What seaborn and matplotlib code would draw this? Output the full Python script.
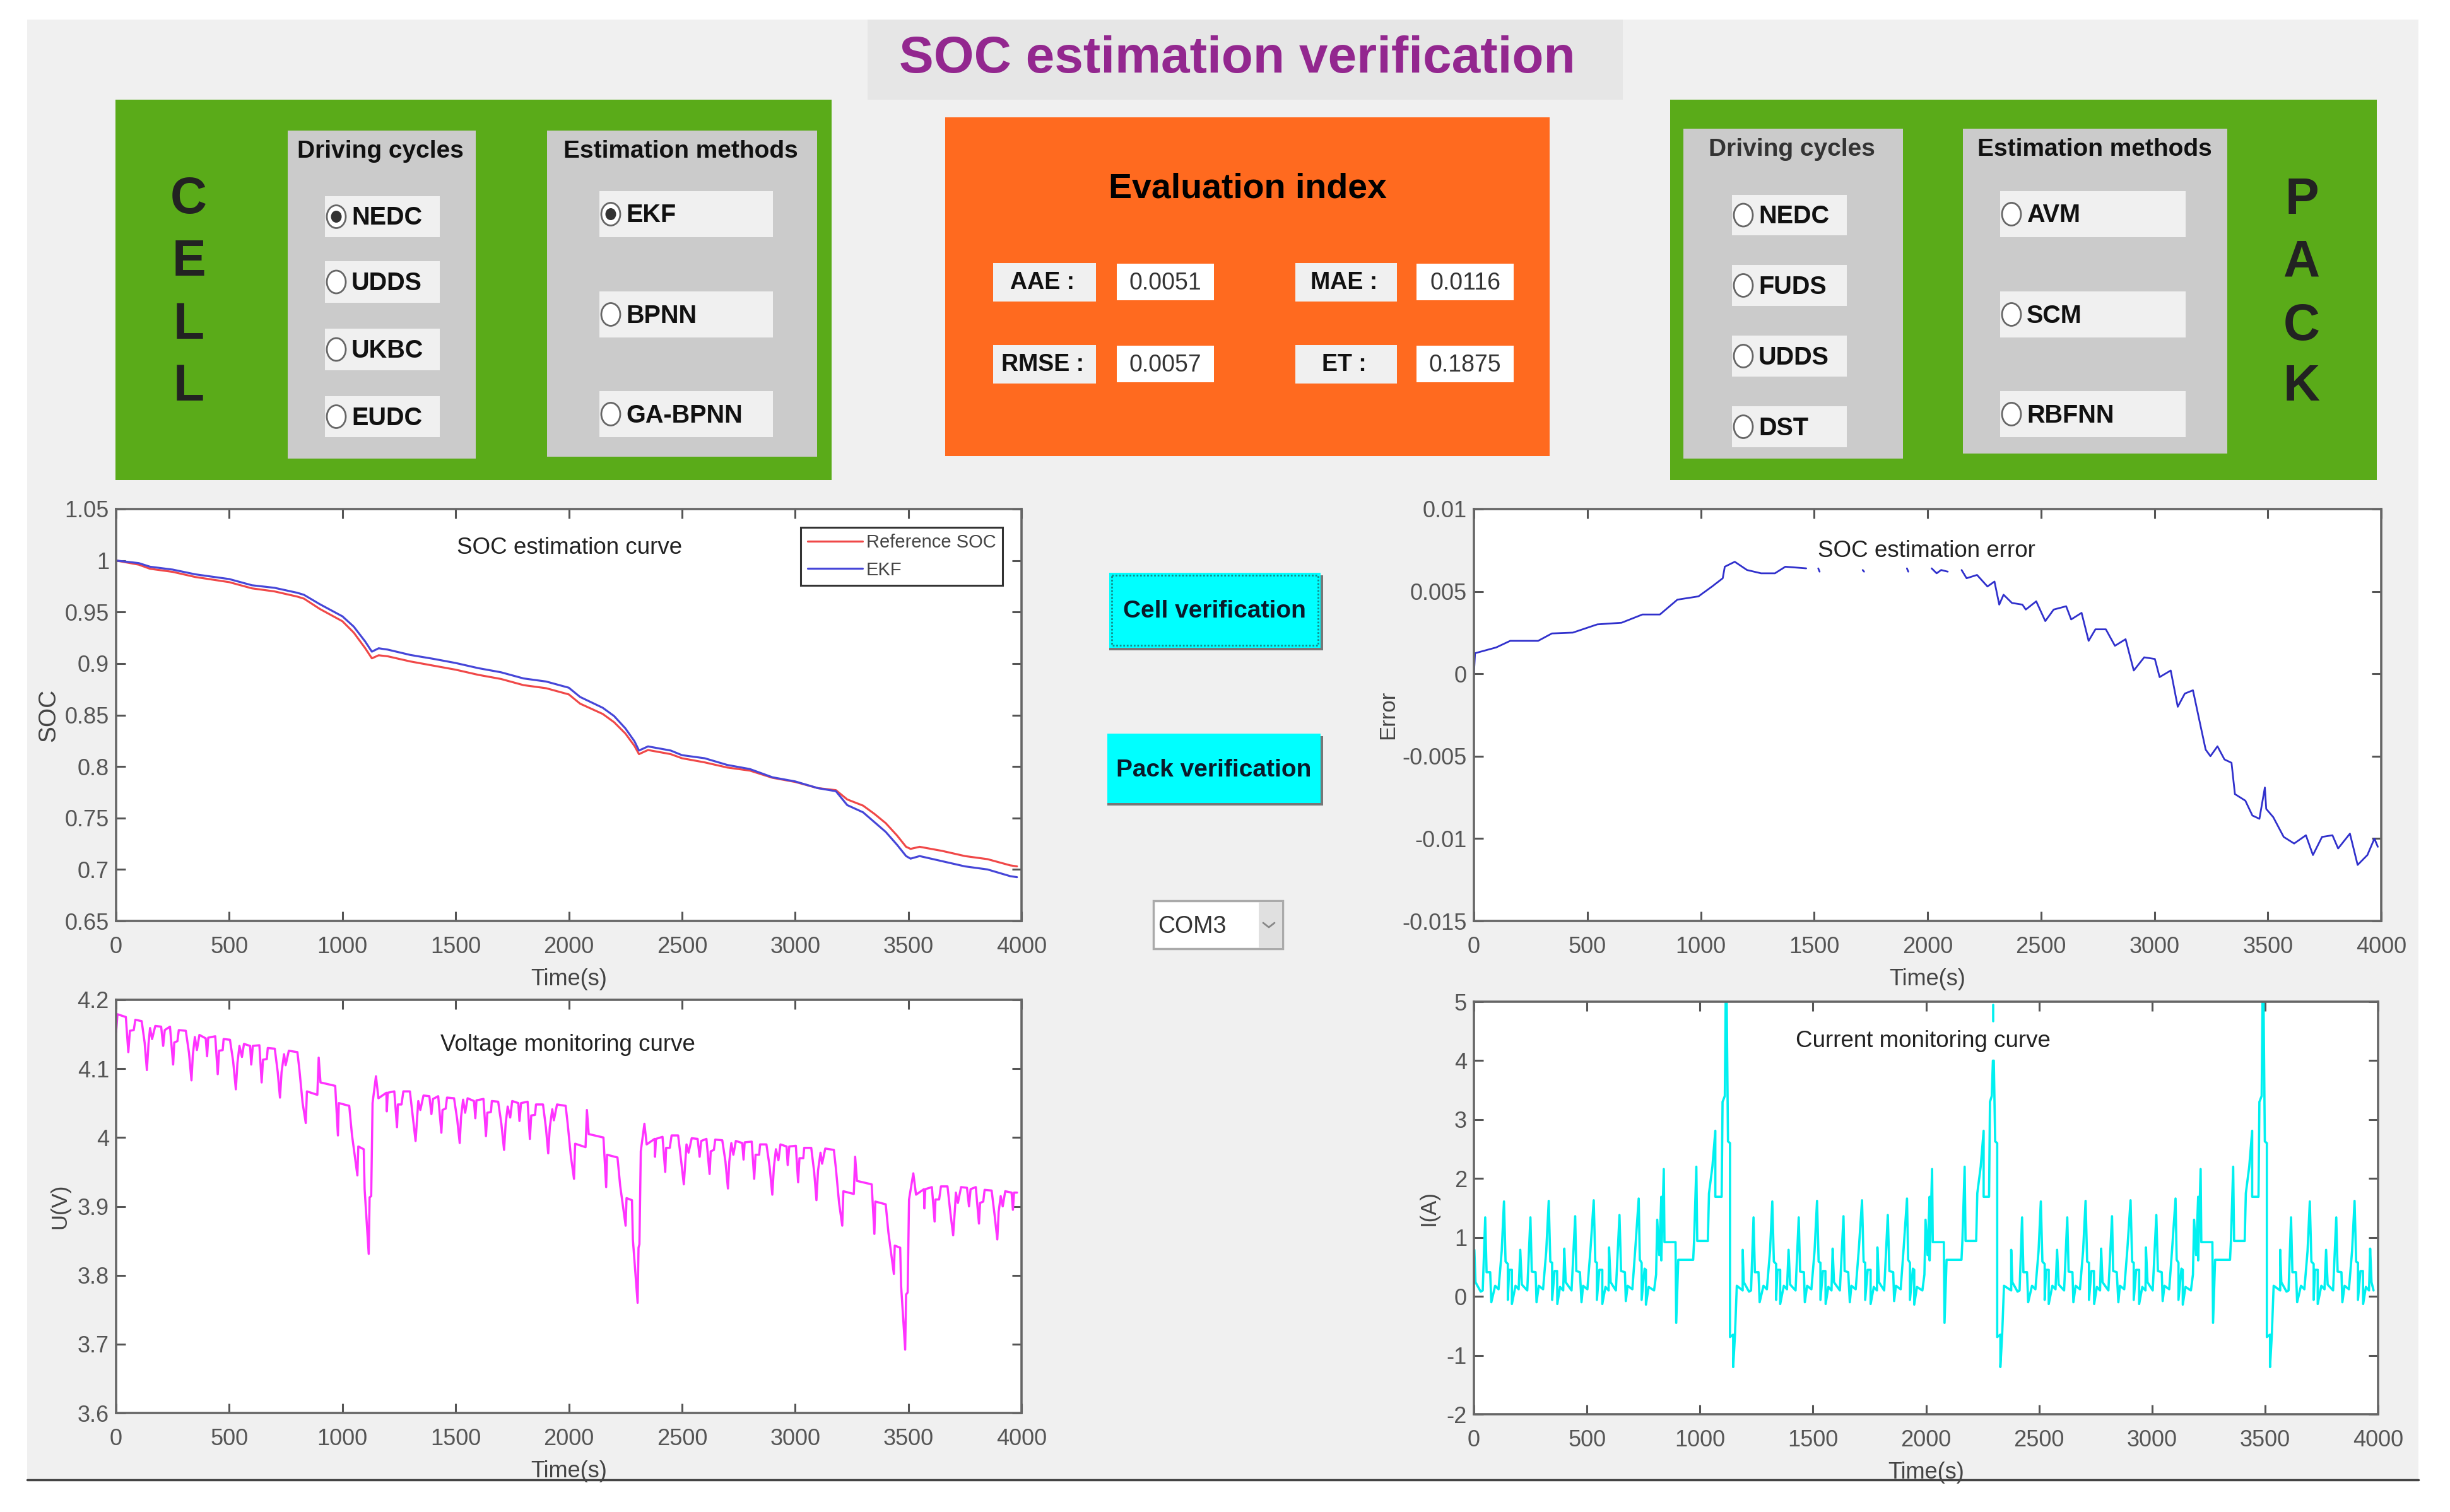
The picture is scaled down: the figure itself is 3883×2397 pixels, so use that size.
import matplotlib
matplotlib.use("Agg")
import matplotlib.pyplot as plt
from matplotlib.patches import Rectangle, Ellipse
import seaborn as sns

W, H = 3883, 2397

# SOC curves
soc_t = [0, 100, 150, 250, 350, 500, 600, 700, 800, 830,
         900, 1000, 1050, 1100, 1130, 1160, 1200, 1300, 1400, 1500,
         1600, 1700, 1800, 1900, 2000, 2050, 2150, 2200, 2250, 2290,
         2310, 2350, 2450, 2500, 2600, 2700, 2800, 2900, 3000, 3100,
         3180, 3230, 3300, 3350, 3400, 3450, 3490, 3510, 3550, 3650,
         3750, 3850, 3950, 3980]
soc_ref = [1.0, .996, .992, .989, .984, .979, .973, .970, .965, .963,
           .953, .941, .93, .915, .905, .908, .907, .902, .898, .894,
           .889, .885, .879, .876, .870, .861, .851, .843, .832, .82,
           .812, .816, .812, .808, .804, .799, .796, .789, .785, .779,
           .777, .768, .762, .754, .745, .733, .722, .72, .722, .718,
           .713, .710, .704, .703]
soc_ekf = [1.0, .9975, .994, .9912, .9866, .982, .976, .9735, .9687, .9667,
           .9576, .9458, .9358, .9215, .9115, .9148, .9135, .9083, .9046, .9005,
           .8955, .8915, .8855, .8825, .8765, .8675, .857, .849, .837, .8245,
           .8155, .8195, .8155, .811, .808, .8015, .7975, .7895, .7855, .779,
           .776, .7625, .7555, .746, .7365, .724, .713, .7105, .713, .708,
           .703, .70, .6935, .6925]

# SOC error, the curve is broken behind the title smudge
err_t_a = [0, 5, 98, 160, 283, 344, 436, 544, 651, 743, 820, 897, 990, 1050, 1097,
           1106, 1150, 1204, 1266, 1327, 1373, 1465]
err_a = [0, .00125, .0016, .002, .002, .00245, .0025, .003, .0031, .0036, .0036, .0045, .0047, .0053, .0058,
         .0065, .0068, .0063, .0061, .0061, .0065, .0064]
err_dots_t = [[1518, 1524], [1714, 1720], [1909, 1915], [2018, 2040, 2060, 2089]]
err_dots = [[.0064, .0062], [.0063, .0062], [.0064, .0062], [.0064, .0061, .0063, .0062]]
err_t_b = [2150, 2172, 2218, 2264, 2295, 2316, 2335, 2372, 2418, 2433,
           2479, 2519, 2556, 2611, 2633, 2679, 2710, 2740, 2786, 2826,
           2873, 2909, 2955, 3002, 3023, 3072, 3103, 3134, 3170, 3201,
           3226, 3247, 3278, 3309, 3340, 3355, 3401, 3432, 3463, 3487,
           3493, 3524, 3570, 3616, 3668, 3699, 3739, 3785, 3810, 3862,
           3896, 3939, 3970, 3985]
err_b = [.0063, .0058, .006, .0053, .0056, .0042, .0048, .0043, .0042, .0039,
         .0044, .0032, .0039, .0041, .0033, .0037, .002, .0027, .0027, .0017,
         .0021, .0002, .001, .0009, -.0002, .0002, -.002, -.0012, -.001, -.003,
         -.0046, -.005, -.0044, -.0052, -.0054, -.0073, -.0077, -.0086, -.0088, -.0069,
         -.0082, -.0087, -.0099, -.0103, -.0098, -.011, -.0099, -.0098, -.0106, -.0097,
         -.0116, -.011, -.01, -.0105]

# voltage, one list per drive cycle
volt_t_1 = [0, 6, 43, 54, 61, 78, 85, 113, 126, 136,
            143, 150, 159, 173, 199, 208, 215, 238, 252, 257,
            271, 277, 308, 322, 333, 339, 348, 357, 368, 396,
            402, 407, 438, 449, 455, 471, 475, 503, 517, 529,
            536, 545, 556, 565, 592, 597, 604, 633, 643, 649,
            666, 670, 701, 714, 724, 731, 742, 749, 763, 801,
            810, 824, 838, 843, 889, 895, 903, 968, 980, 984,
            1030, 1042, 1066, 1070, 1094, 1098, 1116, 1120, 1127, 1133,
            1148]
volt_u_1 = [4.153, 4.179, 4.175, 4.124, 4.155, 4.156, 4.171, 4.169, 4.138, 4.098,
            4.135, 4.159, 4.143, 4.162, 4.161, 4.133, 4.156, 4.161, 4.106, 4.138,
            4.14, 4.156, 4.155, 4.123, 4.083, 4.12, 4.146, 4.127, 4.149, 4.144,
            4.118, 4.145, 4.147, 4.092, 4.126, 4.127, 4.143, 4.142, 4.111, 4.07,
            4.108, 4.133, 4.117, 4.136, 4.133, 4.106, 4.133, 4.134, 4.08, 4.113,
            4.114, 4.13, 4.129, 4.095, 4.058, 4.095, 4.121, 4.105, 4.126, 4.124,
            4.098, 4.05, 4.021, 4.067, 4.062, 4.116, 4.08, 4.075, 4.003, 4.05,
            4.046, 4.004, 3.945, 3.987, 3.983, 3.925, 3.831, 3.913, 3.915, 4.05,
            4.089]
volt_t_2 = [1159, 1194, 1196, 1200, 1229, 1241, 1245, 1261, 1269, 1298,
            1311, 1323, 1331, 1335, 1344, 1358, 1384, 1393, 1400, 1423,
            1437, 1442, 1456, 1462, 1493, 1507, 1518, 1524, 1533, 1542,
            1553, 1581, 1587, 1592, 1623, 1634, 1640, 1656, 1660, 1688,
            1702, 1714, 1721, 1730, 1741, 1750, 1777, 1782, 1789, 1818,
            1828, 1834, 1851, 1855, 1886, 1899, 1909, 1916, 1927, 1934,
            1948, 1986, 1995, 2009, 2023, 2028, 2074, 2080, 2088, 2153,
            2165, 2169, 2215, 2227, 2251, 2255, 2279, 2283, 2304, 2308,
            2312, 2318, 2334]
volt_u_2 = [4.057, 4.065, 4.038, 4.065, 4.067, 4.015, 4.048, 4.048, 4.067, 4.067,
            4.03, 3.995, 4.033, 4.053, 4.04, 4.061, 4.06, 4.034, 4.056, 4.06,
            4.007, 4.04, 4.042, 4.058, 4.057, 4.026, 3.992, 4.03, 4.055, 4.036,
            4.057, 4.053, 4.028, 4.054, 4.056, 4.002, 4.036, 4.037, 4.053, 4.052,
            4.02, 3.982, 4.02, 4.045, 4.029, 4.053, 4.05, 4.024, 4.05, 4.052,
            3.998, 4.032, 4.033, 4.048, 4.048, 4.014, 3.977, 4.015, 4.041, 4.025,
            4.048, 4.046, 4.02, 3.973, 3.94, 3.991, 3.986, 4.04, 4.005, 4.0,
            3.928, 3.975, 3.971, 3.93, 3.872, 3.912, 3.909, 3.852, 3.76, 3.84,
            3.845, 3.98, 4.02]
volt_t_3 = [2344, 2379, 2381, 2385, 2414, 2426, 2430, 2446, 2454, 2483,
            2496, 2508, 2516, 2520, 2529, 2543, 2569, 2578, 2585, 2608,
            2622, 2627, 2641, 2647, 2678, 2692, 2703, 2709, 2718, 2727,
            2738, 2766, 2772, 2777, 2808, 2819, 2825, 2841, 2845, 2873,
            2887, 2899, 2906, 2915, 2926, 2935, 2962, 2967, 2974, 3003,
            3013, 3019, 3036, 3040, 3071, 3084, 3094, 3101, 3112, 3119,
            3133, 3171, 3180, 3194, 3208, 3213, 3259, 3265, 3273, 3338,
            3350, 3354, 3400, 3412, 3436, 3440, 3464, 3468, 3486, 3490,
            3497, 3503, 3522]
volt_u_3 = [3.99, 3.998, 3.972, 3.998, 4.001, 3.95, 3.985, 3.985, 4.003, 4.003,
            3.967, 3.932, 3.97, 3.99, 3.978, 3.999, 3.998, 3.972, 3.995, 3.998,
            3.947, 3.98, 3.982, 3.997, 3.996, 3.965, 3.926, 3.965, 3.992, 3.975,
            3.995, 3.992, 3.968, 3.993, 3.994, 3.94, 3.975, 3.975, 3.99, 3.99,
            3.958, 3.917, 3.957, 3.983, 3.967, 3.99, 3.987, 3.96, 3.987, 3.988,
            3.935, 3.97, 3.97, 3.985, 3.985, 3.95, 3.909, 3.952, 3.978, 3.962,
            3.984, 3.982, 3.955, 3.905, 3.872, 3.922, 3.918, 3.972, 3.937, 3.932,
            3.86, 3.907, 3.903, 3.862, 3.802, 3.843, 3.84, 3.785, 3.692, 3.772,
            3.775, 3.91, 3.948]
volt_t_4 = [3534, 3569, 3571, 3575, 3604, 3616, 3620, 3636, 3644, 3673,
            3686, 3698, 3706, 3710, 3719, 3733, 3759, 3768, 3775, 3798,
            3812, 3817, 3831, 3837, 3868, 3882, 3893, 3899, 3908, 3917,
            3928, 3956, 3962, 3967, 3980]
volt_u_4 = [3.917, 3.925, 3.897, 3.925, 3.928, 3.878, 3.91, 3.91, 3.929, 3.929,
            3.89, 3.858, 3.897, 3.92, 3.905, 3.928, 3.927, 3.9, 3.925, 3.928,
            3.875, 3.905, 3.907, 3.924, 3.923, 3.885, 3.852, 3.892, 3.915, 3.9,
            3.922, 3.92, 3.895, 3.92, 3.92]

# current, same split
curr_t_1 = [2, 7, 30, 39, 50, 56, 72, 77, 94, 109,
            123, 133, 140, 150, 150, 156, 168, 168, 184, 198,
            205, 212, 236, 250, 256, 273, 277, 287, 306, 320,
            331, 338, 346, 346, 357, 368, 369, 381, 395, 400,
            406, 432, 448, 453, 469, 476, 483, 502, 516, 530,
            537, 544, 544, 555, 568, 568, 582, 596, 598, 605,
            628, 644, 651, 668, 672, 680, 701, 714, 729, 734,
            742, 742, 755, 761, 761, 773, 797, 806, 811, 820,
            829, 829, 840, 843, 892, 895, 904, 970, 974, 984,
            988, 1035, 1040, 1055, 1068, 1068, 1096, 1100, 1110, 1116,
            1124, 1133, 1133, 1147, 1147, 1155, 1163, 1189]
curr_i_1 = [.79, .24, .08, .1, 1.34, .41, .41, -.1, .18, .12,
            .77, 1.61, .59, .55, -.06, .45, .45, -.13, .18, .12,
            .79, .2, .1, 1.34, .42, .41, -.1, .18, .12, .77,
            1.62, .59, .57, -.06, .43, .43, -.13, .16, .1, .81,
            .24, .1, 1.36, .43, .41, -.1, .18, .12, .81, 1.63,
            .59, .57, -.06, .45, .45, -.13, .16, .1, .83, .24,
            .1, 1.38, .43, .41, -.08, .18, .12, .81, 1.66, .62,
            .57, -.06, .47, .45, -.14, .16, .1, .37, 1.3, .7,
            1.69, .61, 2.16, .92, .92, -.45, .62, .62, .94, 2.2,
            .94, .94, 1.75, 2.2, 2.81, 1.69, 1.69, 3.3, 3.4, 6.0,
            2.63, 2.6, -.69, -.65, -1.2, -.65, .18, .1]
curr_t_2a = [1189, 1194, 1217, 1226, 1237, 1243, 1259, 1264, 1281, 1296,
             1310, 1320, 1327, 1337, 1337, 1343, 1355, 1355, 1371, 1385,
             1392, 1399, 1423, 1437, 1443, 1460, 1464, 1474, 1493, 1507,
             1518, 1525, 1533, 1533, 1544, 1555, 1556, 1568, 1582, 1587,
             1593, 1619, 1635, 1640, 1656, 1663, 1670, 1689, 1703, 1717,
             1724, 1731, 1731, 1742, 1755, 1755, 1769, 1783, 1785, 1792,
             1815, 1831, 1838, 1855, 1859, 1867, 1888, 1901, 1916, 1921,
             1929, 1929, 1942, 1948, 1948, 1960, 1984, 1993, 1998, 2007,
             2016, 2016, 2027, 2030, 2079, 2082, 2091, 2157, 2161, 2171,
             2175, 2222, 2227, 2242, 2255, 2255, 2279, 2283, 2291, 2296]
curr_i_2a = [.79, .24, .08, .1, 1.34, .41, .41, -.1, .18, .12,
             .77, 1.61, .59, .55, -.06, .45, .45, -.13, .18, .12,
             .79, .2, .1, 1.34, .42, .41, -.1, .18, .12, .77,
             1.62, .59, .57, -.06, .43, .43, -.13, .16, .1, .81,
             .24, .1, 1.36, .43, .41, -.1, .18, .12, .81, 1.63,
             .59, .57, -.06, .45, .45, -.13, .16, .1, .83, .24,
             .1, 1.38, .43, .41, -.08, .18, .12, .81, 1.66, .62,
             .57, -.06, .47, .45, -.14, .16, .1, .37, 1.3, .7,
             1.69, .61, 2.16, .92, .92, -.45, .62, .62, .94, 2.2,
             .94, .94, 1.75, 2.2, 2.81, 1.69, 1.69, 3.3, 3.4, 4.0]
curr_t_2dash = [2298, 2298]
curr_i_2dash = [4.95, 4.67]
curr_t_2b = [2300, 2306, 2315, 2315, 2329, 2329, 2337, 2345, 2377]
curr_i_2b = [4.0, 2.63, 2.6, -.69, -.65, -1.2, -.65, .18, .1]
curr_t_3 = [2377, 2382, 2405, 2414, 2425, 2431, 2447, 2452, 2469, 2484,
            2498, 2508, 2515, 2525, 2525, 2531, 2543, 2543, 2559, 2573,
            2580, 2587, 2611, 2625, 2631, 2648, 2652, 2662, 2681, 2695,
            2706, 2713, 2721, 2721, 2732, 2743, 2744, 2756, 2770, 2775,
            2781, 2807, 2823, 2828, 2844, 2851, 2858, 2877, 2891, 2905,
            2912, 2919, 2919, 2930, 2943, 2943, 2957, 2971, 2973, 2980,
            3003, 3019, 3026, 3043, 3047, 3055, 3076, 3089, 3104, 3109,
            3117, 3117, 3130, 3136, 3136, 3148, 3172, 3181, 3186, 3195,
            3204, 3204, 3215, 3218, 3267, 3270, 3279, 3345, 3349, 3359,
            3363, 3410, 3415, 3430, 3443, 3443, 3471, 3475, 3485, 3491,
            3499, 3508, 3508, 3522, 3522, 3530, 3538, 3567]
curr_i_3 = [.79, .24, .08, .1, 1.34, .41, .41, -.1, .18, .12,
            .77, 1.61, .59, .55, -.06, .45, .45, -.13, .18, .12,
            .79, .2, .1, 1.34, .42, .41, -.1, .18, .12, .77,
            1.62, .59, .57, -.06, .43, .43, -.13, .16, .1, .81,
            .24, .1, 1.36, .43, .41, -.1, .18, .12, .81, 1.63,
            .59, .57, -.06, .45, .45, -.13, .16, .1, .83, .24,
            .1, 1.38, .43, .41, -.08, .18, .12, .81, 1.66, .62,
            .57, -.06, .47, .45, -.14, .16, .1, .37, 1.3, .7,
            1.69, .61, 2.16, .92, .92, -.45, .62, .62, .94, 2.2,
            .94, .94, 1.75, 2.2, 2.81, 1.69, 1.69, 3.3, 3.4, 6.0,
            2.63, 2.6, -.69, -.65, -1.2, -.65, .18, .1]
curr_t_4 = [3567, 3572, 3595, 3604, 3615, 3621, 3637, 3642, 3659, 3674,
            3688, 3698, 3705, 3715, 3715, 3721, 3733, 3733, 3749, 3763,
            3770, 3777, 3801, 3815, 3821, 3838, 3842, 3852, 3871, 3885,
            3896, 3903, 3911, 3911, 3922, 3933, 3934, 3946, 3960, 3965,
            3971, 3980]
curr_i_4 = [.79, .24, .08, .1, 1.34, .41, .41, -.1, .18, .12,
            .77, 1.61, .59, .55, -.06, .45, .45, -.13, .18, .12,
            .79, .2, .1, 1.34, .42, .41, -.1, .18, .12, .77,
            1.62, .59, .57, -.06, .43, .43, -.13, .16, .1, .81,
            .24, .1]

# tick labels
time_ticks = [0, 500, 1000, 1500, 2000, 2500, 3000, 3500, 4000]
soc_ticks = [.65, .7, .75, .8, .85, .9, .95, 1, 1.05]
soc_labels = ["0.65", "0.7", "0.75", "0.8", "0.85", "0.9", "0.95", "1", "1.05"]
err_ticks = [-.015, -.01, -.005, 0, .005, .01]
err_labels = ["-0.015", "-0.01", "-0.005", "0", "0.005", "0.01"]
volt_ticks = [3.6, 3.7, 3.8, 3.9, 4, 4.1, 4.2]
volt_labels = ["3.6", "3.7", "3.8", "3.9", "4", "4.1", "4.2"]
curr_ticks = [-2, -1, 0, 1, 2, 3, 4, 5]

# GUI labels
cell_cycles = ["NEDC", "UDDS", "UKBC", "EUDC"]
cell_methods = ["EKF", "BPNN", "GA-BPNN"]
pack_cycles = ["NEDC", "FUDS", "UDDS", "DST"]
pack_methods = ["AVM", "SCM", "RBFNN"]
index_names = ["AAE :", "MAE :", "RMSE :", "ET :"]
index_values = ["0.0051", "0.0116", "0.0057", "0.1875"]

sns.set_style("ticks")
plt.rcParams["font.family"] = ["Liberation Sans"]
NARROW = ["Liberation Sans Narrow", "Liberation Sans"]

GREEN = "#5aab19"
PANEL = "#cbcbcb"
BOX = "#f0f0f0"
ORANGE = "#ff6a1f"

fig = plt.figure(figsize=(W / 100, H / 100), dpi=100, facecolor="white")

# whole figure axis in pixel coords for the GUI furniture
bg = fig.add_axes([0, 0, 1, 1])
bg.set_xlim(0, W)
bg.set_ylim(H, 0)
bg.axis("off")


def rect(x0, y0, x1, y1, color, **kw):
    bg.add_patch(Rectangle((x0, y0), x1 - x0, y1 - y0, facecolor=color, edgecolor="none", **kw))


def radio(x, y, on=False):
    bg.add_patch(Ellipse((x, y), 30, 36, facecolor="white", edgecolor="#666666", linewidth=2))
    if on:
        bg.add_patch(Ellipse((x, y), 17, 19, facecolor="#333333", edgecolor="none"))


def options(names, x0, x1, ys, rx, tx, selected=None):
    for i, (name, (y0, y1)) in enumerate(zip(names, ys)):
        rect(x0, y0, x1, y1, BOX)
        radio(rx, (y0 + y1) / 2, on=(i == selected))
        bg.text(tx - 2, (y0 + y1) / 2 + 2, name, fontsize=28.5, fontweight="bold", color="#111111", ha="left", va="center")


rect(43, 31, 3833, 2346, "#f0f0f0")
bg.plot([43, 3833], [2346, 2346], color="#444444", lw=2.5)

# title band
rect(1375, 31, 2572, 158, "#e6e6e6")
bg.text(1961, 94, "SOC estimation verification", fontsize=59, fontweight="bold", color="#93278f", ha="center", va="center")

# cell block
rect(183, 158, 1318, 761, GREEN)
rect(456, 207, 754, 727, PANEL)
rect(867, 207, 1295, 724, PANEL)
bg.text(603, 240, "Driving cycles", fontsize=28, fontweight="bold", color="#111111", ha="center", va="center")
bg.text(1079, 240, "Estimation methods", fontsize=28, fontweight="bold", color="#111111", ha="center", va="center")
options(cell_cycles, 515, 697, [(311, 376), (414, 480), (521, 587), (628, 693)], 533, 559, selected=0)
options(cell_methods, 950, 1225, [(303, 376), (462, 535), (620, 693)], 968, 994, selected=0)
for ch, y in zip("CELL", [317, 416, 516, 614]):
    bg.text(299, y, ch, fontsize=58, fontweight="bold", color="#222222", ha="center", va="center")

# pack block
rect(2647, 158, 3767, 761, GREEN)
rect(2668, 204, 3016, 727, PANEL)
rect(3111, 204, 3530, 719, PANEL)
bg.text(2840, 237, "Driving cycles", fontsize=28, fontweight="bold", color="#333333", ha="center", va="center")
bg.text(3320, 237, "Estimation methods", fontsize=28, fontweight="bold", color="#111111", ha="center", va="center")
options(pack_cycles, 2745, 2927, [(309, 373), (420, 485), (532, 597), (644, 709)], 2763, 2789)
options(pack_methods, 3170, 3464, [(303, 376), (462, 535), (620, 693)], 3188, 3214)
for ch, y in zip("PACK", [318, 416, 518, 614]):
    bg.text(3648, y, ch, fontsize=58, fontweight="bold", color="#222222", ha="center", va="center")

# evaluation block
rect(1498, 186, 2456, 723, ORANGE)
bg.text(1977, 299, "Evaluation index", fontsize=40, fontweight="bold", color="black", ha="center", va="center")
name_boxes = [(1574, 1737, 417, 478), (2053, 2214, 417, 478), (1574, 1737, 547, 608), (2053, 2214, 547, 608)]
value_boxes = [(1770, 1924, 418, 476), (2245, 2399, 418, 476), (1770, 1924, 548, 606), (2245, 2399, 548, 606)]
for name, val, nb, vb in zip(index_names, index_values, name_boxes, value_boxes):
    rect(nb[0], nb[2], nb[1], nb[3], BOX)
    rect(vb[0], vb[2], vb[1], vb[3], "white")
    bg.text((nb[0] + nb[1]) / 2 - 3, (nb[2] + nb[3]) / 2, name, fontsize=27, fontweight="bold", color="#111111", ha="center", va="center")
    bg.text((vb[0] + vb[1]) / 2, (vb[2] + vb[3]) / 2 + 2, val, fontsize=27, color="#333333", ha="center", va="center")

# buttons
rect(1758, 912, 2097, 1031, "#777777")
rect(1758, 908, 2093, 1027, "#00ffff")
bg.add_patch(Rectangle((1762, 912), 327, 111, facecolor="none", edgecolor="#128c8c", linewidth=2, linestyle=(0, (1, 1))))
bg.text(1925, 969, "Cell verification", fontsize=28, fontweight="bold", color="#0a1a2a", ha="center", va="center")
rect(1755, 1167, 2097, 1277, "#777777")
rect(1755, 1163, 2093, 1273, "#00ffff")
bg.text(1924, 1221, "Pack verification", fontsize=28, fontweight="bold", color="#0a1a2a", ha="center", va="center")

# com port dropdown
bg.add_patch(Rectangle((1828, 1428), 205, 76, facecolor="white", edgecolor="#aaaaaa", linewidth=2.5))
rect(1995, 1430, 2032, 1503, "#e0e0e0")
bg.plot([2002, 2011, 2020], [1463, 1470, 1463], color="#888888", lw=2)
bg.text(1835, 1469, "COM3", fontsize=27, color="#333333", ha="left", va="center")


def make_axes(l, t, r, b, xlab_xy, ylab_xy, yticks, ylabels, ylim):
    ax = fig.add_axes([l / W, 1 - b / H, (r - l) / W, (b - t) / H])
    ax.set_xlim(0, 4000)
    ax.set_ylim(*ylim)
    ax.set_facecolor("white")
    ax.set_xticks(time_ticks)
    ax.set_yticks(yticks)
    ax.set_yticklabels(ylabels)
    ax.tick_params(axis="both", which="major", direction="in", length=11, width=2.2, color="#555555",
                   top=True, right=True, labelcolor="#555555", labelsize=26)
    ax.tick_params(axis="x", pad=17)
    ax.tick_params(axis="y", pad=8)
    for lab in ax.get_xticklabels() + ax.get_yticklabels():
        lab.set_family(NARROW)
    for sp in ax.spines.values():
        sp.set_visible(True)
        sp.set_color("#666666")
        sp.set_linewidth(2.6)
    ax.xaxis.set_label_coords((xlab_xy[0] - l) / (r - l), (b - xlab_xy[1]) / (b - t))
    ax.yaxis.set_label_coords((ylab_xy[0] - l) / (r - l), (b - ylab_xy[1]) / (b - t))
    return ax


def curve(ax, x, y, color, lw, label=None):
    sns.lineplot(x=x, y=y, ax=ax, color=color, linewidth=lw, estimator=None, sort=False, label=label, legend=False)


def axis_text(ax, ylab, size=25):
    ax.set_xlabel("Time(s)", fontsize=26, family=NARROW, color="#444444", va="center")
    ax.set_ylabel(ylab, fontsize=size, color="#444444", va="center")


def panel_title(x, y, s):
    fig.text(x / W, 1 - y / H, s, fontsize=26.5, color="#222222", ha="center", va="center")


# SOC estimation
ax1 = make_axes(184, 807, 1619, 1460, (903, 1553), (77, 1135), soc_ticks, soc_labels, (.65, 1.05))
curve(ax1, soc_t, soc_ref, "#f04848", 2.3, "Reference SOC")
curve(ax1, soc_t, soc_ekf, "#4646d8", 2.3, "EKF")
axis_text(ax1, "SOC", 28)
leg = ax1.legend(loc="upper left", bbox_to_anchor=((1269 - 184) / 1435, (1460 - 836) / 653), fontsize=21, frameon=True,
                 fancybox=False, framealpha=1, edgecolor="#333333", borderaxespad=0, borderpad=0.36,
                 labelspacing=0.52, handlelength=3.0, handletextpad=0.2)
leg.get_frame().set_linewidth(2.2)
for t in leg.get_texts():
    t.set_color("#444444")
panel_title(903, 868, "SOC estimation curve")

# SOC error
ax2 = make_axes(2336, 807, 3774, 1460, (3056, 1552), (2200, 1132), err_ticks, err_labels, (-.015, .01))
curve(ax2, err_t_a, err_a, "#3030cc", 2.0)
for dt, de in zip(err_dots_t, err_dots):
    curve(ax2, dt, de, "#3030cc", 2.0)
curve(ax2, err_t_b, err_b, "#3030cc", 2.0)
axis_text(ax2, "Error")
panel_title(3053, 873, "SOC estimation error")

# voltage
ax3 = make_axes(184, 1585, 1619, 2240, (903, 2332), (95, 1912), volt_ticks, volt_labels, (3.6, 4.2))
curve(ax3, volt_t_1 + volt_t_2 + volt_t_3 + volt_t_4, volt_u_1 + volt_u_2 + volt_u_3 + volt_u_4, "#ff33ff", 2.5)
axis_text(ax3, "U(V)")
panel_title(900, 1656, "Voltage monitoring curve")

# current
ax4 = make_axes(2336, 1588, 3769, 2242, (3054, 2334), (2264, 1913), curr_ticks, [str(v) for v in curr_ticks], (-2, 5))
curve(ax4, curr_t_1 + curr_t_2a, curr_i_1 + curr_i_2a, "#00f0f0", 2.6)
curve(ax4, curr_t_2dash, curr_i_2dash, "#00f0f0", 2.6)
curve(ax4, curr_t_2b + curr_t_3 + curr_t_4, curr_i_2b + curr_i_3 + curr_i_4, "#00f0f0", 2.6)
axis_text(ax4, "I(A)")
panel_title(3048, 1651, "Current monitoring curve")

fig.savefig("out.png", dpi=100, facecolor="white")
